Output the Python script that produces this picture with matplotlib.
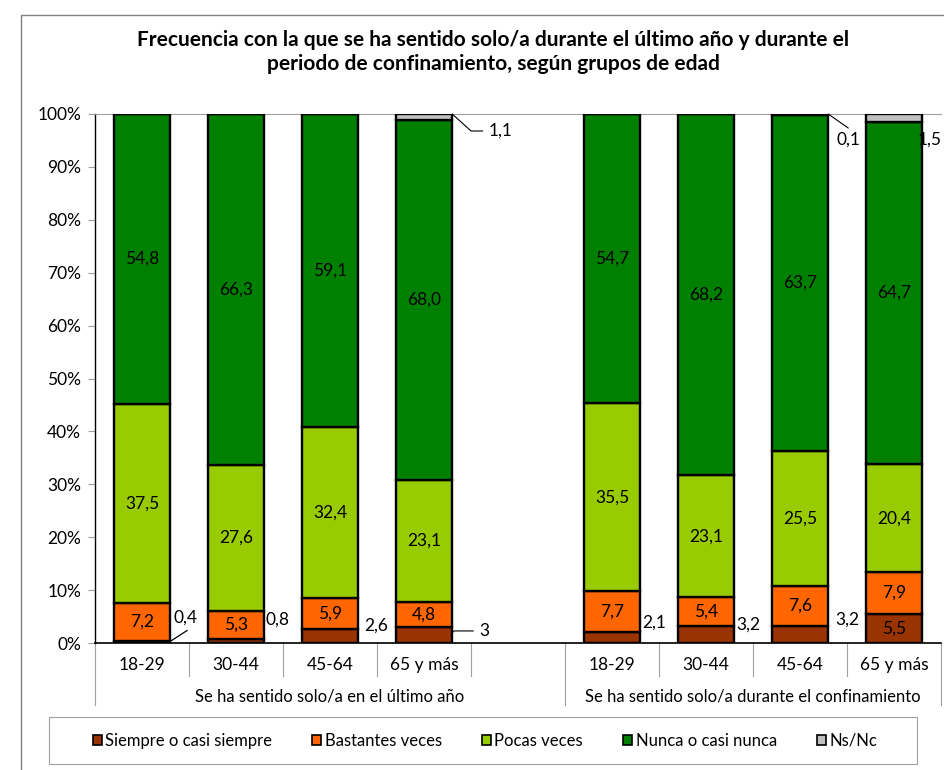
import numpy as np
import matplotlib.pyplot as plt
from matplotlib.patches import Rectangle, Patch
import matplotlib.transforms as mtransforms

plt.rcParams['font.family'] = ['Lato', 'DejaVu Sans']

titulo = ('Frecuencia con la que se ha sentido solo/a durante el último año y durante el\n'
          'periodo de confinamiento, según grupos de edad')
edades = ['18-29', '30-44', '45-64', '65 y más']
grupos = ['Se ha sentido solo/a en el último año',
          'Se ha sentido solo/a durante el confinamiento']
series = ['Siempre o casi siempre', 'Bastantes veces', 'Pocas veces',
          'Nunca o casi nunca', 'Ns/Nc']
colores = ['#993300', '#FF6600', '#99CC00', '#008000', '#C0C0C0']

# ultimo año (4 edades) + confinamiento (4 edades)
siempre   = [0.4, 0.8, 2.6, 3.0, 2.1, 3.2, 3.2, 5.5]
bastantes = [7.2, 5.3, 5.9, 4.8, 7.7, 5.4, 7.6, 7.9]
pocas     = [37.5, 27.6, 32.4, 23.1, 35.5, 23.1, 25.5, 20.4]
nunca     = [54.8, 66.3, 59.1, 68.0, 54.7, 68.2, 63.7, 64.7]
nsnc      = [0.0, 0.0, 0.0, 1.1, 0.0, 0.0, 0.1, 1.5]

pos = np.array([0, 1, 2, 3, 5, 6, 7, 8])   # hueco en la posicion 4
ancho = 0.6
fs = 12.5

datos = np.array([siempre, bastantes, pocas, nunca, nsnc])
datos = datos / datos.sum(axis=0) * 100    # 100% apilado


def fmt(v, dec=True):
    s = f'{v:.1f}' if dec else f'{v:g}'
    return s.replace('.', ',')


fig = plt.figure(figsize=(9.44, 7.7), dpi=100)
ax = fig.add_axes([95/944, 1-643/770, 846/944, 529/770])

base = np.zeros(len(pos))
for i, (nombre, col) in enumerate(zip(series, colores)):
    ax.bar(pos, datos[i], ancho, bottom=base, color=col, edgecolor='black',
           linewidth=1.7, label=nombre, zorder=3)
    base += datos[i]

# etiquetas dentro de las barras (bastantes, pocas, nunca)
base = datos[0].copy()
for i, raw in zip([1, 2, 3], [bastantes, pocas, nunca]):
    for x, b, h, v in zip(pos, base, datos[i], raw):
        ax.text(x, b + h/2, fmt(v), ha='center', va='center', fontsize=fs, zorder=4)
    base += datos[i]
ax.text(pos[7], datos[0][7]/2, fmt(siempre[7]), ha='center', va='center',
        fontsize=fs, zorder=4)

# etiquetas exteriores de "siempre": (indice, dx px, dy px, guia)
ext_siempre = [(0, 44, 23, 'recta'), (1, 42, 19, None), (2, 46, 4, None),
               (3, 58, 4, 'codo'), (4, 42, 9, None), (5, 42, 1, None),
               (6, 47, 6, None)]
for k, dx, dy, guia in ext_siempre:
    x = pos[k]
    y = datos[0][k]
    txt = fmt(siempre[k], dec=False)
    if guia == 'recta':
        ax.annotate(txt, xy=(x, y), xytext=(dx, dy), textcoords='offset pixels',
                    ha='center', va='center', fontsize=fs)
        # linea guia suelta, desde la esquina de la barra
        ax.annotate('', xy=(x + ancho/2, 0.3), xytext=(17, 11), textcoords='offset pixels',
                    arrowprops=dict(arrowstyle='-', lw=0.9, color='black',
                                    shrinkA=0, shrinkB=0), zorder=5)
    elif guia == 'codo':
        ax.annotate(txt, xy=(x + ancho/2, y/2 + 0.4), xytext=(dx - ancho/2*94 + 2, dy - 2),
                    textcoords='offset pixels', ha='center', va='center', fontsize=fs,
                    arrowprops=dict(arrowstyle='-', lw=0.8, color='black',
                                    connectionstyle='angle,angleA=0,angleB=51',
                                    shrinkA=2, shrinkB=0))
    else:
        ax.annotate(txt, xy=(x, y), xytext=(dx, dy), textcoords='offset pixels',
                    ha='center', va='center', fontsize=fs)

# etiquetas de Ns/Nc
ax.annotate(fmt(nsnc[3]), xy=(pos[3] + ancho/2, 100), xytext=(48, -17),
            textcoords='offset pixels', ha='center', va='center', fontsize=fs,
            arrowprops=dict(arrowstyle='-', lw=0.8, color='black',
                            connectionstyle='angle,angleA=0,angleB=-42',
                            shrinkA=2, shrinkB=0))
ax.annotate(fmt(nsnc[6]), xy=(pos[6] + ancho/2, 100), xytext=(20, -26),
            textcoords='offset pixels', ha='center', va='center', fontsize=fs,
            arrowprops=dict(arrowstyle='-', lw=0.8, color='black',
                            relpos=(0.5, 1.25), patchA=None, shrinkA=0, shrinkB=0))
ax.annotate(fmt(nsnc[7]), xy=(pos[7], 100), xytext=(36, -26),
            textcoords='offset pixels', ha='center', va='center', fontsize=fs)

# ejes
ax.set_xlim(-0.5, 8.5)
ax.set_ylim(0, 100)
ax.set_yticks(np.arange(0, 101, 10))
ax.set_yticklabels([f'{v}%' for v in range(0, 101, 10)])
ax.tick_params(axis='y', length=5, color='#A0A0A0', labelsize=fs, pad=5)
ax.set_xticks(pos, edades * 2)
ax.tick_params(axis='x', length=0, labelsize=fs, pad=10)
ax.spines['right'].set_visible(False)
ax.spines['top'].set_color('#A0A0A0')
ax.spines['top'].set_linewidth(0.8)
ax.spines['left'].set_linewidth(1.0)
ax.spines['bottom'].set_linewidth(1.2)

# separadores de categorias y grupos
trans = mtransforms.blended_transform_factory(ax.transData, ax.transAxes)
for xs in [0.5, 1.5, 2.5, 3.5, 5.5, 6.5, 7.5]:
    ax.plot([xs, xs], [0, -0.062], transform=trans, color='#A0A0A0', lw=0.8, clip_on=False)
for xs in [-0.5, 4.5, 8.5]:
    ax.plot([xs, xs], [0, -0.117], transform=trans, color='#A0A0A0', lw=0.8, clip_on=False)
ax.text(2.0, -0.102, grupos[0], transform=trans, ha='center', va='center', fontsize=12)
ax.text(6.5, -0.102, grupos[1], transform=trans, ha='center', va='center', fontsize=12)

# titulo
fig.text(493/944, 1 - 52/770, titulo, ha='center', va='center', fontsize=15,
         fontweight='bold', linespacing=1.25)

# marco exterior
fig.patches.append(Rectangle((21/944, -0.1), 1.2, 1 - 15/770 + 0.1,
                             transform=fig.transFigure, fill=False,
                             edgecolor='#808080', lw=1.0))

# leyenda
fig.patches.append(Rectangle((49/944, 1 - 764/770), 868/944, 47/770,
                             transform=fig.transFigure, fill=False,
                             edgecolor='#A0A0A0', lw=0.8))
handles = [Patch(facecolor=c, edgecolor='black', linewidth=1.2) for c in colores]
fig.legend(handles, series, loc='center', bbox_to_anchor=(485/944, 1 - 741/770),
           ncol=5, frameon=False, fontsize=12, handlelength=0.55, handleheight=0.55,
           handletextpad=0.2, columnspacing=2.4)

plt.savefig('out.png', dpi=100)
